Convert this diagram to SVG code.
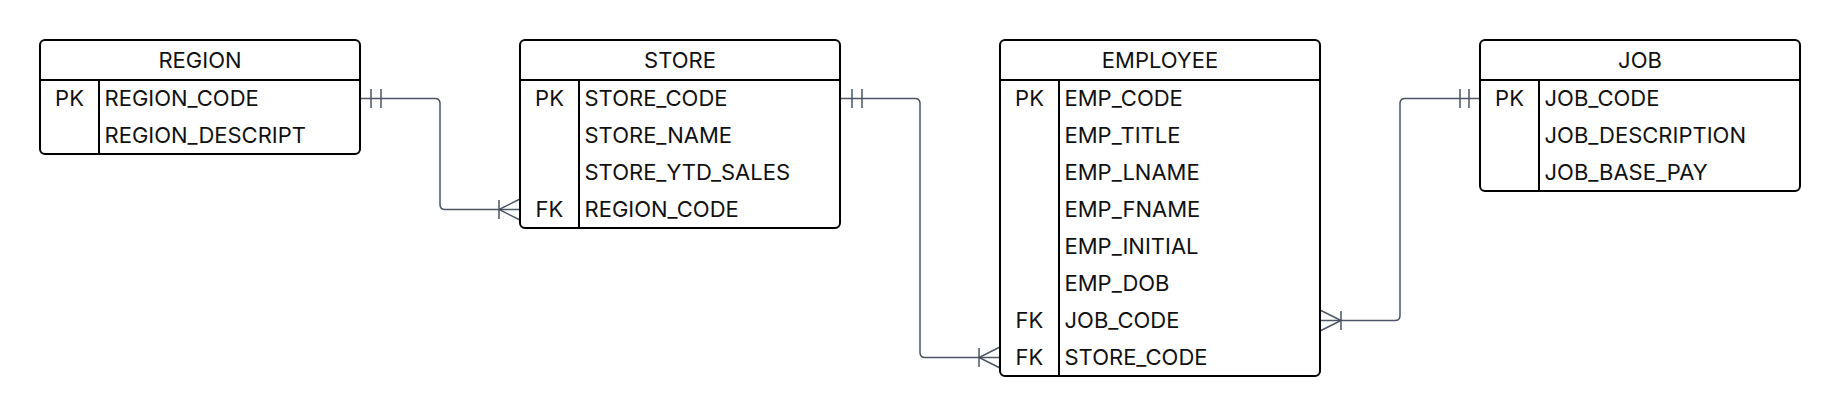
<svg xmlns="http://www.w3.org/2000/svg" width="1840" height="416" viewBox="0 0 1840 416">
<style>
.box{fill:#fff;stroke:#000;stroke-width:2}
.ln{fill:none;stroke:#000;stroke-width:2}
.t{font-family:Inter,"Noto Sans",sans-serif;font-size:22px;fill:#111}
.h{text-anchor:middle}
.k{text-anchor:middle}
.c{fill:none;stroke:#4b5563;stroke-width:1.5}
</style>
<rect width="1840" height="416" fill="#fff"/>
<g id="connectors">
<path class="c" d="M360,98.5 H435 Q440,98.5 440,103.5 V204.5 Q440,209.5 445,209.5 H520"/>
<path class="c" d="M371,89 V108 M381,89 V108"/>
<path class="c" d="M520,199 L499,209.5 L520,220 M499,200 V219"/>
<path class="c" d="M840,98.5 H915 Q920,98.5 920,103.5 V352.5 Q920,357.5 925,357.5 H1000"/>
<path class="c" d="M852,89 V108 M862,89 V108"/>
<path class="c" d="M1000,347 L979,357.5 L1000,368 M979,348 V367"/>
<path class="c" d="M1480,98.5 H1405 Q1400,98.5 1400,103.5 V315.5 Q1400,320.5 1395,320.5 H1320"/>
<path class="c" d="M1469,89 V108 M1460,89 V108"/>
<path class="c" d="M1320,310 L1341,320.5 L1320,331 M1341,311 V330"/>
</g>
<g id="region">
<rect class="box" x="40" y="40" width="320" height="114" rx="5"/>
<path class="ln" d="M40,80 H360 M99,80 V154"/>
<text class="t h" x="200" y="67.5">REGION</text>
<text class="t k" x="69.5" y="105.5">PK</text>
<text class="t" x="104.5" y="105.5">REGION_CODE</text>
<text class="t" x="104.5" y="142.5">REGION_DESCRIPT</text>
</g>
<g id="store">
<rect class="box" x="520" y="40" width="320" height="188" rx="5"/>
<path class="ln" d="M520,80 H840 M579,80 V228"/>
<text class="t h" x="680" y="67.5">STORE</text>
<text class="t k" x="549.5" y="105.5">PK</text>
<text class="t" x="584.5" y="105.5">STORE_CODE</text>
<text class="t" x="584.5" y="142.5">STORE_NAME</text>
<text class="t" x="584.5" y="179.5">STORE_YTD_SALES</text>
<text class="t k" x="549.5" y="216.5">FK</text>
<text class="t" x="584.5" y="216.5">REGION_CODE</text>
</g>
<g id="employee">
<rect class="box" x="1000" y="40" width="320" height="336" rx="5"/>
<path class="ln" d="M1000,80 H1320 M1059,80 V376"/>
<text class="t h" x="1160" y="67.5">EMPLOYEE</text>
<text class="t k" x="1029.5" y="105.5">PK</text>
<text class="t" x="1064.5" y="105.5">EMP_CODE</text>
<text class="t" x="1064.5" y="142.5">EMP_TITLE</text>
<text class="t" x="1064.5" y="179.5">EMP_LNAME</text>
<text class="t" x="1064.5" y="216.5">EMP_FNAME</text>
<text class="t" x="1064.5" y="253.5">EMP_INITIAL</text>
<text class="t" x="1064.5" y="290.5">EMP_DOB</text>
<text class="t k" x="1029.5" y="327.5">FK</text>
<text class="t" x="1064.5" y="327.5">JOB_CODE</text>
<text class="t k" x="1029.5" y="364.5">FK</text>
<text class="t" x="1064.5" y="364.5">STORE_CODE</text>
</g>
<g id="job">
<rect class="box" x="1480" y="40" width="320" height="151" rx="5"/>
<path class="ln" d="M1480,80 H1800 M1539,80 V191"/>
<text class="t h" x="1640" y="67.5">JOB</text>
<text class="t k" x="1509.5" y="105.5">PK</text>
<text class="t" x="1544.5" y="105.5">JOB_CODE</text>
<text class="t" x="1544.5" y="142.5">JOB_DESCRIPTION</text>
<text class="t" x="1544.5" y="179.5">JOB_BASE_PAY</text>
</g>
</svg>
